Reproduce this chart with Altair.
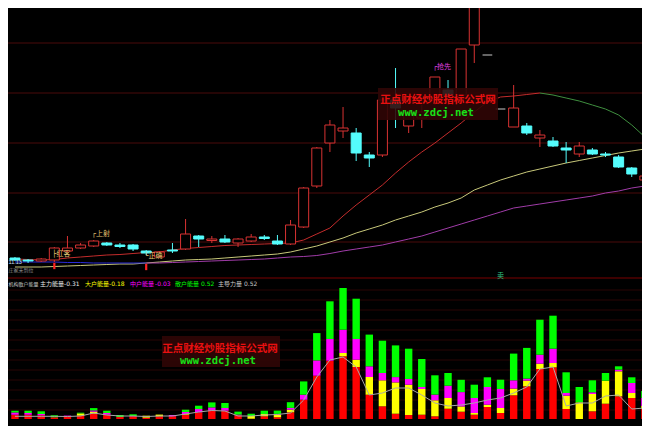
import altair as alt
import pandas as pd

# ---------------- data ----------------
idx = list(range(49))

open_p = [11.33, 11.25, 11.21, 11.25, 11.61, 11.73, 11.81, 11.93, 11.85, 11.85,
          11.61, 11.37, 11.65, 11.69, 12.21, 12.03, 12.09, 11.93, 12.01, 12.17,
          12.01, 11.89, 12.57, 14.21, 15.93, 16.41, 16.33, 15.45, 15.45, 17.65,
          16.61, 16.93, 17.65, 18.05, 17.85, 19.85, 19.45, 17.29, 16.57, 16.61,
          16.13, 16.01, 15.73, 15.49, 15.65, 15.49, 15.37, 14.93, 14.45]
close_p = [11.25, 11.21, 11.29, 11.73, 11.73, 11.85, 12.01, 11.85, 11.79, 11.69,
           11.53, 11.57, 11.61, 12.29, 12.09, 12.09, 11.97, 12.09, 12.17, 12.11,
           11.89, 12.65, 14.13, 15.73, 16.65, 16.53, 15.53, 15.33, 17.65, 17.33,
           17.13, 17.17, 18.57, 17.85, 19.69, 21.73, 19.45, 17.29, 17.33, 16.33,
           16.25, 15.81, 15.65, 15.81, 15.49, 15.45, 14.97, 14.69, 14.61]
high_p = [11.37, 11.29, 11.33, 11.77, 12.21, 11.93, 12.05, 11.97, 11.93, 11.89,
          11.65, 11.61, 11.93, 12.89, 12.25, 12.21, 12.25, 12.13, 12.29, 12.25,
          12.25, 12.85, 14.17, 15.77, 16.85, 17.37, 16.53, 15.57, 17.73, 18.93,
          17.25, 17.45, 18.57, 18.45, 19.69, 21.85, 19.45, 17.29, 18.25, 16.73,
          16.45, 16.17, 15.97, 15.97, 15.73, 15.57, 15.45, 14.97, 14.65]
low_p = [11.21, 11.13, 11.17, 11.17, 11.57, 11.69, 11.77, 11.81, 11.73, 11.61,
         11.45, 11.33, 11.53, 11.65, 11.77, 11.93, 11.93, 11.77, 11.97, 12.05,
         11.85, 11.85, 12.53, 14.13, 15.57, 16.13, 15.21, 14.97, 15.37, 16.53,
         16.33, 16.53, 17.45, 17.73, 17.65, 19.13, 19.45, 17.29, 16.57, 16.25,
         15.77, 15.77, 15.13, 15.37, 15.45, 15.37, 14.93, 14.57, 14.41]

ma_short = [11.29, 11.27, 11.25, 11.27, 11.33, 11.37, 11.41, 11.45, 11.47, 11.51,
            11.55, 11.57, 11.65, 11.71, 11.75, 11.79, 11.83, 11.85, 11.87, 11.89,
            11.91, 11.93, 12.05, 12.29, 12.53, 13.01, 13.45, 13.85, 14.25, 14.73,
            15.17, 15.57, 15.93, 16.33, 16.73, 17.17, 17.57, 17.77, 17.81, 17.87,
            17.93, 17.85, 17.73, 17.61, 17.45, 17.29, 17.05, 16.65, 16.17]
ma_mid = [10.97, 10.97, 10.97, 10.99, 11.01, 11.03, 11.05, 11.07, 11.09, 11.09,
          11.13, 11.17, 11.21, 11.25, 11.27, 11.29, 11.33, 11.37, 11.41, 11.45,
          11.49, 11.57, 11.69, 11.81, 11.97, 12.13, 12.33, 12.49, 12.65, 12.85,
          13.01, 13.17, 13.37, 13.53, 13.73, 14.05, 14.25, 14.45, 14.61, 14.77,
          14.89, 15.01, 15.13, 15.23, 15.33, 15.43, 15.53, 15.61, 15.69]
ma_long = [11.17, 11.17, 11.17, 11.17, 11.15, 11.15, 11.13, 11.13, 11.13, 11.13,
           11.13, 11.13, 11.15, 11.17, 11.19, 11.21, 11.23, 11.25, 11.27, 11.29,
           11.33, 11.37, 11.39, 11.43, 11.51, 11.61, 11.69, 11.77, 11.85, 11.97,
           12.09, 12.21, 12.37, 12.53, 12.69, 12.85, 13.01, 13.17, 13.33, 13.41,
           13.49, 13.57, 13.65, 13.73, 13.81, 13.93, 14.01, 14.13, 14.21]
ma_short_peak = 40
ma_long_trough = 10

grid_levels = [11.97, 13.93, 15.93, 17.93, 19.93]

energy_main = [4.3, 4.3, 3.7, 1.7, 2.7, 3.3, 5.3, 4.3, 2.0, 2.7,
               1.3, 2.7, 2.7, 4.3, 6.7, 8.3, 8.3, 3.7, 0.3, 2.7,
               1.7, 6.7, 19.3, 43.3, 58.3, 62.7, 52.0, 24.3, 12.7, 5.3,
               4.0, 4.3, 2.7, 10.3, 7.3, 4.3, 12.0, 6.0, 23.7, 32.7,
               50.0, 51.7, 10.0, 0.0, 7.7, 15.3, 22.7, 21.0, 10.0]
energy_big = [0, 0, 0, 0, 0, 2.3, 2.0, 0, 0, 0,
              2.0, 1.7, 0, 0.7, 0, 0, 0, 0, 2.7, 2.3,
              2.7, 2.7, 0, 0, 0, 3.3, 7.3, 17.7, 26.0, 31.3,
              30.3, 25.7, 16.0, 10.7, 5.3, 1.7, 2.3, 5.0, 6.7, 5.7,
              5.3, 4.3, 13.3, 16.7, 17.3, 23.0, 25.0, 5.0, 3.0]
energy_mid = [2.3, 1.7, 1.3, 0, 0.7, 0, 1.3, 1.7, 0, 0.3,
              0, 0, 1.3, 2.0, 3.3, 3.3, 2.7, 0.7, 0, 0,
              0.7, 1.7, 5.0, 15.3, 21.7, 23.3, 20.7, 10.7, 7.3, 5.3,
              5.7, 2.0, 5.7, 12.3, 14.3, 15.0, 17.7, 19.0, 8.3, 2.0,
              9.0, 14.3, 2.7, 0, 1.7, 0, 1.7, 10.0, 8.0]
energy_retail = [1.7, 2.3, 2.7, 2.0, 0, 0.7, 2.3, 2.3, 2.0, 1.7,
                 0, 0, 0, 2.3, 3.3, 5.0, 5.0, 3.0, 2.3, 3.3,
                 3.3, 5.7, 13.3, 27.3, 37.7, 41.7, 40.3, 31.7, 32.3, 31.7,
                 30.3, 28.0, 19.3, 12.7, 12.3, 13.3, 9.7, 9.3, 26.7, 30.7,
                 35.0, 33.0, 20.7, 15.3, 12.0, 7.7, 3.3, 5.7, 7.0]
energy_lead = [2.7, 2.7, 2.7, 2.7, 2.5, 3, 6, 4, 3, 3,
               2.5, 3, 3, 5, 7, 8.5, 8, 3, 3, 4,
               4.5, 6, 19, 42, 59, 62, 52, 24, 26, 31,
               31, 24, 16, 13, 14, 16, 19, 21, 26, 32,
               50, 52, 13, 16, 16, 23, 24, 10, 11]
energy_grid = [9, 19, 29, 39, 49, 59, 69, 79, 89, 99, 109, 119, 129]

energy_names = ["主力能量", "大户能量", "中户能量", "散户能量"]
header = [("机构散户能量", "", "#c8c8c8"), ("主力能量", "-0.31", "#e6e6e6"),
          ("大户能量", "-0.18", "#ffff00"), ("中户能量", "-0.03", "#ff00ff"),
          ("散户能量", "0.52", "#00ff00"), ("主导力量", "0.52", "#c8c8c8")]

buy_idx = [3, 10]
sell_idx = [37]
low_label = "11.13"

# ---------------- tables ----------------
candles = pd.DataFrame({"i": idx, "open": open_p, "close": close_p,
                        "high": high_p, "low": low_p})
candles["dir"] = ["up" if c > o else ("down" if c < o else "flat")
                  for o, c in zip(open_p, close_p)]
candles["ma_long"] = ma_long

ma_rows = []
for seg, vals, a, b in [("s_up", ma_short, 0, ma_short_peak),
                        ("s_dn", ma_short, ma_short_peak, 48),
                        ("m", ma_mid, 0, 48),
                        ("l_dn", ma_long, 0, ma_long_trough),
                        ("l_up", ma_long, ma_long_trough, 48)]:
    for k in range(a, b + 1):
        ma_rows.append({"i": k, "v": vals[k], "seg": seg})
ma_df = pd.DataFrame(ma_rows)

erows = []
for o, (name, arr) in enumerate(zip(energy_names,
                                    [energy_main, energy_big, energy_mid, energy_retail])):
    for k in idx:
        erows.append({"i": k, "v": arr[k], "cat": name, "ord": o})
energy = pd.DataFrame(erows)
lead_df = pd.DataFrame({"i": idx, "v": energy_lead})

dummy = pd.DataFrame({"a": [0]})

# ---------------- scales ----------------
W, H = 634, 418
XS = alt.Scale(domain=[-0.15, 47.4], nice=False, zero=False)
YT = alt.Scale(domain=[10.33, 21.33], range=[275, 0], nice=False, zero=False)
YB = alt.Scale(domain=[0, 132], range=[411, 279], nice=False, zero=False)
CJK = "Noto Sans CJK SC"
MONO = "DejaVu Sans Mono, Noto Sans CJK SC"

RED_K, CYAN_K, GRAY_K = "#d83232", "#54fcfc", "#c8c8c8"
dir_dom = ["up", "down", "flat"]

x_i = alt.X("i:Q", scale=XS, axis=None)


def txt(text, x, y, color, size=6, align="left", font=CJK, weight="normal"):
    return alt.Chart(dummy).mark_text(
        text=text, align=align, baseline="middle", fontSize=size, font=font,
        color=color, fontWeight=weight
    ).encode(x=alt.value(x), y=alt.value(y))


layers = []

# grid of the price panel
layers.append(alt.Chart(pd.DataFrame({"g": grid_levels})).mark_rule(
    color="#4a0a0a", strokeWidth=1).encode(
    y=alt.Y("g:Q", scale=YT, axis=None), x=alt.value(0), x2=alt.value(W)))
# grid of the energy panel
layers.append(alt.Chart(pd.DataFrame({"g": energy_grid})).mark_rule(
    color="#2a0505", strokeWidth=1).encode(
    y=alt.Y("g:Q", scale=YB, axis=None), x=alt.value(0), x2=alt.value(W)))
# panel separator
layers.append(alt.Chart(dummy).mark_rule(color="#7a0000", strokeWidth=1).encode(
    x=alt.value(0), x2=alt.value(W), y=alt.value(270)))

# moving averages
layers.append(alt.Chart(ma_df).mark_line(strokeWidth=1, clip=True).encode(
    x=x_i, y=alt.Y("v:Q", scale=YT, axis=None),
    color=alt.Color("seg:N", legend=None, scale=alt.Scale(
        domain=["s_up", "s_dn", "m", "l_dn", "l_up"],
        range=["#c42c2c", "#3f8f3f", "#c8c87a", "#2a2ad8", "#a03ca8"])),
    order=alt.Order("i:Q")))

# candles: wicks
layers.append(alt.Chart(candles).transform_filter("datum.dir != 'flat'").mark_rule(
    strokeWidth=1, clip=True).encode(
    x=x_i, y=alt.Y("high:Q", scale=YT, axis=None), y2="low:Q",
    color=alt.Color("dir:N", legend=None,
                    scale=alt.Scale(domain=dir_dom, range=[RED_K, CYAN_K, GRAY_K]))))
# candles: bodies
layers.append(alt.Chart(candles).transform_filter("datum.dir != 'flat'").mark_bar(
    size=10, strokeWidth=1, orient="vertical", clip=True).encode(
    x=x_i, y=alt.Y("open:Q", scale=YT, axis=None), y2="close:Q",
    fill=alt.Fill("dir:N", legend=None,
                  scale=alt.Scale(domain=dir_dom, range=["#000000", CYAN_K, GRAY_K])),
    stroke=alt.Stroke("dir:N", legend=None,
                      scale=alt.Scale(domain=dir_dom, range=[RED_K, CYAN_K, GRAY_K]))))
# flat (open == close) candles
layers.append(alt.Chart(candles).transform_filter("datum.dir == 'flat'").transform_calculate(
    xl="datum.i - 0.37", xr="datum.i + 0.37").mark_rule(
    color=GRAY_K, strokeWidth=1, clip=True).encode(
    x=alt.X("xl:Q", scale=XS, axis=None), x2="xr:Q",
    y=alt.Y("open:Q", scale=YT, axis=None)))


# annotations on candles
def anno(i, field, text, color, dx, dy):
    return alt.Chart(candles).transform_filter(f"datum.i == {i}").mark_text(
        text=text, align="left", baseline="middle", fontSize=7, font=MONO,
        color=color, dx=dx, dy=dy).encode(
        x=x_i, y=alt.Y(f"{field}:Q", scale=YT, axis=None))


layers.append(anno(3, "high", "├红客", "#e0c070", -2, 7))
layers.append(anno(6, "high", "┌上射", "#e0c070", -2, -6))
layers.append(anno(10, "low", "└正确", "#e0c070", -2, 1))
layers.append(anno(32, "high", "┌抢先", "#e040e0", -2, -10))

# low price label and the note under it (kept inside the visible area)
layers.append(txt(low_label, 0.5, 254, "#c8e0f8", size=5.5, font="Liberation Sans"))
layers.append(txt("庄家未到位", 0.5, 261.5, "#8a8a8a", size=5))

# buy markers
layers.append(alt.Chart(candles).transform_filter(
    alt.FieldOneOfPredicate(field="i", oneOf=buy_idx)).mark_point(
    shape="M-0.35,-1L0.35,-1L0.35,1L-0.35,1Z", size=40, filled=True,
    color="#ff2020", opacity=1, yOffset=4).encode(
    x=x_i, y=alt.Y("ma_long:Q", scale=YT, axis=None)))
# sell marker
layers.append(alt.Chart(candles).transform_filter(
    alt.FieldOneOfPredicate(field="i", oneOf=sell_idx)).mark_text(
    text="卖", fontSize=7, font=CJK, color="#30c080", baseline="middle").encode(
    x=x_i, y=alt.value(268)))

# energy bars
layers.append(alt.Chart(energy).mark_bar(size=7.4, orient="vertical", clip=True).encode(
    x=x_i, y=alt.Y("v:Q", stack="zero", scale=YB, axis=None),
    color=alt.Color("cat:N", legend=None, scale=alt.Scale(
        domain=energy_names, range=["#ff0000", "#ffff00", "#ff00ff", "#00ff00"])),
    order=alt.Order("ord:Q")))
layers.append(alt.Chart(lead_df).mark_line(color="#a8a8a8", strokeWidth=1, clip=True).encode(
    x=x_i, y=alt.Y("v:Q", scale=YB, axis=None)))

# header of the energy panel
hx = [0.5, 32, 77, 122, 167, 210]
vx = [None, 56, 101, 147, 193, 236]
hs = [5, 6, 6, 6, 6, 6]
for (name, val, col), a, b, s in zip(header, hx, vx, hs):
    layers.append(txt(name, a, 275.5, col, size=s))
    if val:
        layers.append(txt(val, b, 275.5, col, size=6, font="DejaVu Sans"))

# watermarks
for (x0, x1, y0, y1, cx, t1y, t2y) in [(370, 490, 80, 112, 430, 91.5, 104.5),
                                       (154, 272, 328, 359, 212, 340.5, 353)]:
    layers.append(alt.Chart(dummy).mark_rect(color="#300606", opacity=0.9).encode(
        x=alt.value(x0), x2=alt.value(x1), y=alt.value(y0), y2=alt.value(y1)))
    layers.append(txt("正点财经炒股指标公式网", cx, t1y, "#e81010", size=10.5,
                      align="center", weight="bold"))
    layers.append(txt("www.zdcj.net", cx - 2, t2y, "#18e018", size=10.5,
                      align="center", font="DejaVu Sans Mono", weight="bold"))

chart = alt.layer(*layers).resolve_scale(
    y="independent", color="independent", fill="independent", stroke="independent"
).properties(
    width=W, height=H, padding=0,
    autosize=alt.AutoSizeParams(type="none")
).configure(background="#000000").configure_view(strokeWidth=0)

chart.save("out.html", embed_options={"renderer": "svg", "actions": False})
